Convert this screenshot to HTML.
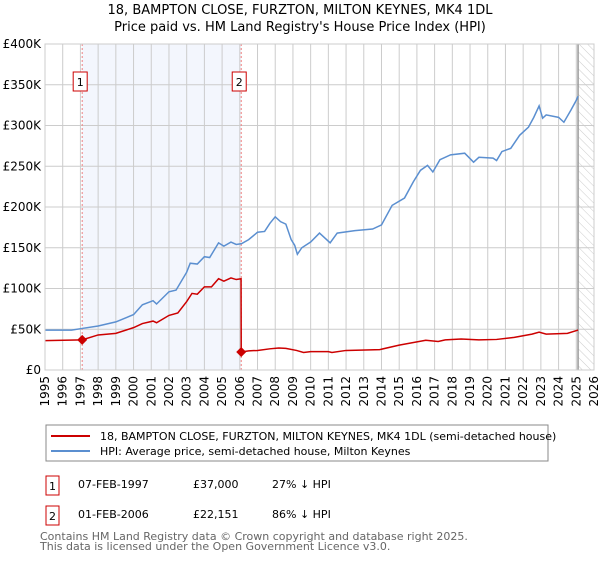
<!DOCTYPE html>
<html><head><meta charset="utf-8"><style>
body{margin:0;background:#fff;font-family:"DejaVu Sans","Liberation Sans",sans-serif;}
svg text{font-family:"DejaVu Sans","Liberation Sans",sans-serif;}
</style></head><body>
<svg id="chart" width="600" height="560" viewBox="0 0 600 560">
<defs><pattern id="hatch" width="6" height="6" patternUnits="userSpaceOnUse" patternTransform="rotate(-45)"><line x1="0" y1="0" x2="0" y2="6" stroke="#ccc" stroke-width="1"/></pattern></defs>
<text x="300" y="14" text-anchor="middle" font-size="13" fill="#000">18, BAMPTON CLOSE, FURZTON, MILTON KEYNES, MK4 1DL</text>
<text x="300" y="31" text-anchor="middle" font-size="13" fill="#000">Price paid vs. HM Land Registry's House Price Index (HPI)</text>
<g id="plot"></g>
<g>
<rect x="46" y="425" width="502" height="36" fill="#fff" stroke="#888"/>
<line x1="51" y1="436" x2="90" y2="436" stroke="#cc0000" stroke-width="2"/>
<text x="100" y="440" font-size="11">18, BAMPTON CLOSE, FURZTON, MILTON KEYNES, MK4 1DL (semi-detached house)</text>
<line x1="51" y1="451" x2="90" y2="451" stroke="#5b8fd0" stroke-width="2"/>
<text x="100" y="455" font-size="11">HPI: Average price, semi-detached house, Milton Keynes</text>
</g>
<g font-size="11">
<rect x="46" y="476" width="13" height="19" fill="#fff" stroke="#cc0000"/><text x="49" y="490">1</text>
<text x="78" y="488">07-FEB-1997</text><text x="193" y="488">£37,000</text><text x="272" y="488">27% ↓ HPI</text>
<rect x="46" y="506" width="13" height="19" fill="#fff" stroke="#cc0000"/><text x="49" y="520">2</text>
<text x="78" y="518">01-FEB-2006</text><text x="193" y="518">£22,151</text><text x="272" y="518">86% ↓ HPI</text>
</g>
<text x="40" y="540" font-size="11" fill="#666">Contains HM Land Registry data © Crown copyright and database right 2025.</text>
<text x="40" y="550" font-size="11" fill="#666">This data is licensed under the Open Government Licence v3.0.</text>
</svg>
<script>
const yTicks=[0,50000,100000,150000,200000,250000,300000,350000,400000];
const yTickLabels=["£0","£50K","£100K","£150K","£200K","£250K","£300K","£350K","£400K"];
const xTicks=[1995,1996,1997,1998,1999,2000,2001,2002,2003,2004,2005,2006,2007,2008,2009,2010,2011,2012,2013,2014,2015,2016,2017,2018,2019,2020,2021,2022,2023,2024,2025,2026];
const hpiYears=[1995,1996.5,1997.1,1998,1999,2000,2000.5,2001.1,2001.3,2002,2002.4,2003,2003.2,2003.6,2004,2004.3,2004.8,2005.1,2005.5,2005.8,2006.1,2006.5,2007,2007.4,2007.7,2008,2008.3,2008.6,2008.9,2009.1,2009.25,2009.5,2010,2010.5,2011.1,2011.5,2012.5,2013.5,2014,2014.6,2015.3,2015.8,2016.2,2016.6,2016.9,2017.3,2017.9,2018.7,2019.2,2019.5,2020.3,2020.5,2020.8,2021.3,2021.8,2022.3,2022.6,2022.9,2023.1,2023.3,2024,2024.3,2024.7,2025,2025.1];
const hpiValues=[49,49,51,54,59,68,80,85,81,96,98,120,131,130,139,138,156,152,157,154,155,160,169,170,180,188,182,179,160,153,142,150,157,168,156,168,171,173,178,202,211,231,245,251,243,258,264,266,255,261,260,257,268,272,288,298,310,324,309,313,310,304,319,331,336];
const paidYears=[1995,1997.1,1998,1999,2000,2000.5,2001.1,2001.3,2002,2002.5,2003,2003.3,2003.6,2004,2004.4,2004.8,2005.1,2005.5,2005.8,2006.07,2006.08,2006.5,2007,2007.7,2008.2,2008.6,2009.2,2009.6,2010,2011,2011.2,2012,2013.9,2015,2016.5,2017.2,2017.6,2018.5,2019.5,2020.5,2021.5,2022.5,2022.9,2023.3,2024.5,2025.1];
const paidValues=[36,37,43,45,52,57,60,58,67,70,84,94,93,102,102,112,109,113,111,112,22.151,23.5,24,26,27,26.5,24,21.5,22.5,22.5,21.5,24,25,30.5,36.5,35,37,38,37,37.5,40,44,46.5,44,45,49];
const saleYears=[1997.1,2006.08];
const saleValues=[37000,22151];
const saleLabels=["1","2"];

const X0=45,X1=594,Y0=370,Y1=44;
const xs=y=>X0+(y-1995)/31*(X1-X0);
const ys=v=>Y0-v/400000*(Y0-Y1);
const NS="http://www.w3.org/2000/svg";
const g=document.getElementById('plot');
function mk(t,a){const e=document.createElementNS(NS,t);for(const k in a)e.setAttribute(k,a[k]);g.appendChild(e);return e;}
let r=mk('rect',{x:xs(saleYears[0]),y:Y1,width:xs(saleYears[1])-xs(saleYears[0]),height:Y0-Y1,fill:'#f3f6fd'});


let h=mk('rect',{x:xs(2025.1),y:Y1,width:X1-xs(2025.1),height:Y0-Y1,fill:'url(#hatch)'});


yTicks.forEach((v,i)=>{
  let l=mk('line',{x1:X0,x2:X1,y1:ys(v),y2:ys(v),stroke:'#ccc'});
  
  
  let t=mk('text',{x:X0-4,y:ys(v)+4,'text-anchor':'end','font-size':'12'});
  t.textContent=yTickLabels[i];
  
  
});
xTicks.forEach(y=>{
  let l=mk('line',{x1:xs(y),x2:xs(y),y1:Y1,y2:Y0,stroke:'#ccc'});
  
  
  let t=mk('text',{x:0,y:0,'font-size':'12','text-anchor':'end',transform:`translate(${xs(y)+4},${Y0+6}) rotate(-90)`});
  t.textContent=y;
  
  
});
let vl=mk('line',{x1:xs(2025.1),x2:xs(2025.1),y1:Y1,y2:Y0,stroke:'#999','stroke-width':1.5});


saleYears.forEach((y,i)=>{
  let l=mk('line',{x1:xs(y),x2:xs(y),y1:Y1,y2:Y0,stroke:'#f08080','stroke-dasharray':'2,2'});
  
  
  let b=mk('rect',{x:xs(y)-9,y:72,width:14,height:19,fill:'#fff',stroke:'#cc0000'});
  
  
  let t=mk('text',{x:xs(y)-2,y:86,'font-size':'11','text-anchor':'middle'});
  t.textContent=saleLabels[i];
  
  
});
let hp=mk('polyline',{points:hpiYears.map((y,i)=>xs(y)+','+ys(hpiValues[i]*1000)).join(' '),fill:'none',stroke:'#5b8fd0','stroke-width':1.5});


let pp=mk('polyline',{points:paidYears.map((y,i)=>xs(y)+','+ys(paidValues[i]*1000)).join(' '),fill:'none',stroke:'#cc0000','stroke-width':1.5});


saleYears.forEach((y,i)=>{
  const cx=xs(y),cy=ys(saleValues[i]);
  let d=mk('polygon',{points:`${cx},${cy-5} ${cx+5},${cy} ${cx},${cy+5} ${cx-5},${cy}`,fill:'#cc0000'});
  
  
});
let ax=mk('rect',{x:X0,y:Y1,width:X1-X0,height:Y0-Y1,fill:'none',stroke:'#ccc'});


</script>
</body></html>
